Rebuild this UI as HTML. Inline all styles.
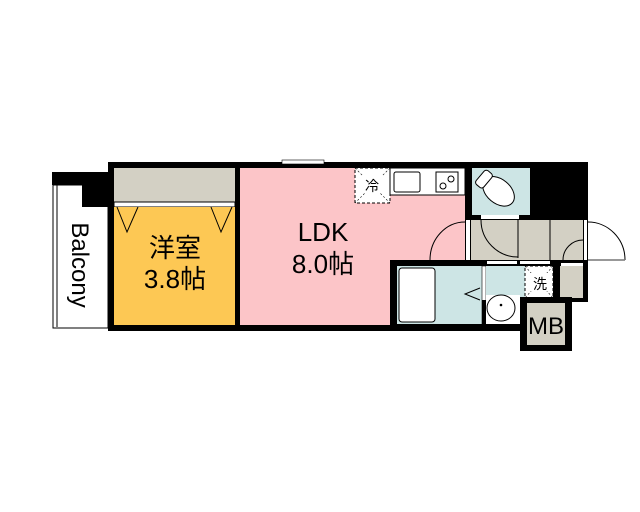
<!DOCTYPE html>
<html><head><meta charset="utf-8"><style>
body{margin:0;background:#fff}
svg{display:block}
text{font-family:"Liberation Sans","Noto Sans CJK JP",sans-serif}
</style></head><body>
<svg width="640" height="512" viewBox="0 0 640 512" xmlns="http://www.w3.org/2000/svg">
<rect width="640" height="512" fill="#fff"/>
<!-- balcony -->
<rect x="53" y="185" width="55" height="143" fill="#fff" stroke="#000" stroke-width="1"/>
<line x1="57" y1="185" x2="57" y2="327" stroke="#000" stroke-width="1"/>
<rect x="52" y="172" width="56" height="13" fill="#000"/>
<rect x="82" y="172" width="26" height="35" fill="#000"/>
<text x="0" y="0" font-size="24" text-anchor="middle" transform="translate(72,265) rotate(90)">Balcony</text>
<!-- main outer black -->
<rect x="108" y="162" width="480" height="6" fill="#000"/>
<rect x="108" y="162" width="6" height="169" fill="#000"/>
<rect x="108" y="325" width="290" height="6" fill="#000"/>
<!-- bedroom closet -->
<rect x="114" y="168" width="121" height="34" fill="#d3d0c4"/>
<rect x="114" y="202" width="121" height="5" fill="#fff" stroke="#000" stroke-width="1"/>
<rect x="114" y="207" width="121" height="118" fill="#fdc854"/>
<polyline points="117,207 127,232 138,207" fill="none" stroke="#000" stroke-width="1"/>
<polyline points="211,207 221,232 232,207" fill="none" stroke="#000" stroke-width="1"/>
<text x="175" y="257" font-size="26" text-anchor="middle">洋室</text>
<text x="175" y="288" font-size="26" text-anchor="middle">3.8帖</text>
<rect x="235" y="168" width="5" height="160" fill="#000"/>
<!-- LDK -->
<rect x="240" y="168" width="225" height="157" fill="#fcc5c8"/>
<rect x="282" y="160" width="42" height="4" fill="#fff" stroke="#000" stroke-width="0.6"/>
<text x="323" y="241" font-size="26" text-anchor="middle">LDK</text>
<text x="323" y="273" font-size="26" text-anchor="middle">8.0帖</text>
<rect x="355" y="168" width="35" height="35" fill="#fff" stroke="#000" stroke-width="1" stroke-dasharray="3,2"/>
<line x1="355" y1="168" x2="390" y2="203" stroke="#000" stroke-width="0.6" stroke-dasharray="2,2"/>
<line x1="390" y1="168" x2="355" y2="203" stroke="#000" stroke-width="0.6" stroke-dasharray="2,2"/>
<rect x="363" y="176" width="19" height="17" fill="#fff"/>
<text x="372" y="191" font-size="14" text-anchor="middle">冷</text>
<rect x="390" y="168" width="75" height="27" fill="#fff" stroke="#000" stroke-width="1"/>
<rect x="394" y="172" width="26" height="20" fill="#fff" stroke="#000" stroke-width="1" rx="2"/>
<rect x="436" y="172" width="22" height="20" fill="#fff" stroke="#000" stroke-width="1"/>
<circle cx="443" cy="186" r="3" fill="none" stroke="#000"/>
<circle cx="451" cy="179" r="3" fill="none" stroke="#000"/>
<!-- toilet -->
<rect x="465" y="162" width="123" height="58" fill="#000"/>
<rect x="472" y="168" width="58" height="47" fill="#cde5e5"/>
<rect x="481" y="215" width="38" height="4" fill="#fff"/>
<g transform="translate(497,190) rotate(40)">
<ellipse cx="2" cy="0" rx="18" ry="12" fill="#fff" stroke="#000"/>
<rect x="-22" y="-9" width="10" height="18" rx="3" fill="#fff" stroke="#000"/>
</g>
<!-- hallway -->
<rect x="465" y="220" width="123" height="40" fill="#000"/>
<rect x="471" y="220" width="112" height="40" fill="#d3d0c4"/>
<rect x="466" y="220" width="4" height="40" fill="#fff"/>
<rect x="584" y="220" width="3" height="40" fill="#fff"/>
<line x1="518" y1="220" x2="518" y2="258" stroke="#000" stroke-width="1"/>
<line x1="550" y1="220" x2="550" y2="260" stroke="#000" stroke-width="1"/>
<path d="M481,220 A37,37 0 0 0 518,257" fill="none" stroke="#000"/>
<path d="M563,260 A20,20 0 0 1 583,240" fill="none" stroke="#000"/>
<path d="M430,260 A35,38 0 0 1 465,222" fill="none" stroke="#000"/>
<path d="M588,222 A37,38 0 0 1 625,260" fill="none" stroke="#000"/>
<line x1="588" y1="260" x2="625" y2="260" stroke="#777" stroke-width="1.5"/>
<!-- bath block -->
<rect x="390" y="260" width="198" height="6" fill="#000"/>
<rect x="390" y="260" width="7" height="71" fill="#000"/>
<rect x="390" y="324" width="135" height="7" fill="#000"/>
<rect x="583" y="260" width="5" height="40" fill="#000"/>
<rect x="487" y="261" width="30" height="3" fill="#fff"/>
<rect x="520" y="261" width="30" height="3" fill="#fff"/>
<rect x="561" y="263" width="22" height="3" fill="#fff"/>
<rect x="397" y="266" width="85" height="58" fill="#cde5e5"/>
<rect x="399" y="268" width="36" height="54" fill="#fff" stroke="#000" rx="3"/>
<polyline points="480,288 465,294 480,300" fill="none" stroke="#000"/>
<rect x="482" y="266" width="4" height="58" fill="#fff" stroke="#000" stroke-width="0.6"/>
<rect x="482" y="300" width="4" height="24" fill="#000"/>
<rect x="486" y="266" width="39" height="58" fill="#cde5e5"/>
<rect x="486" y="295" width="34" height="29" fill="#fff"/>
<ellipse cx="501" cy="308" rx="14" ry="13" fill="#fff" stroke="#000"/>
<circle cx="501" cy="305" r="1.3" fill="#000"/>
<rect x="553" y="266" width="7" height="34" fill="#000"/>
<rect x="525" y="266" width="28" height="32" fill="#fff" stroke="#000" stroke-width="1" stroke-dasharray="3,2"/>
<line x1="525" y1="266" x2="553" y2="298" stroke="#000" stroke-width="0.6" stroke-dasharray="2,2"/>
<line x1="553" y1="266" x2="525" y2="298" stroke="#000" stroke-width="0.6" stroke-dasharray="2,2"/>
<rect x="530" y="273" width="19" height="18" fill="#fff"/>
<text x="540" y="289" font-size="14" text-anchor="middle">洗</text>
<rect x="560" y="266" width="23" height="32" fill="#d3d0c4"/>
<rect x="560" y="298" width="28" height="4" fill="#000"/>
<!-- MB -->
<rect x="520" y="297" width="52" height="54" fill="#000"/>
<rect x="527" y="303" width="38" height="42" fill="#d3d0c4"/>
<text x="546" y="334" font-size="24" text-anchor="middle">MB</text>
</svg>
</body></html>
